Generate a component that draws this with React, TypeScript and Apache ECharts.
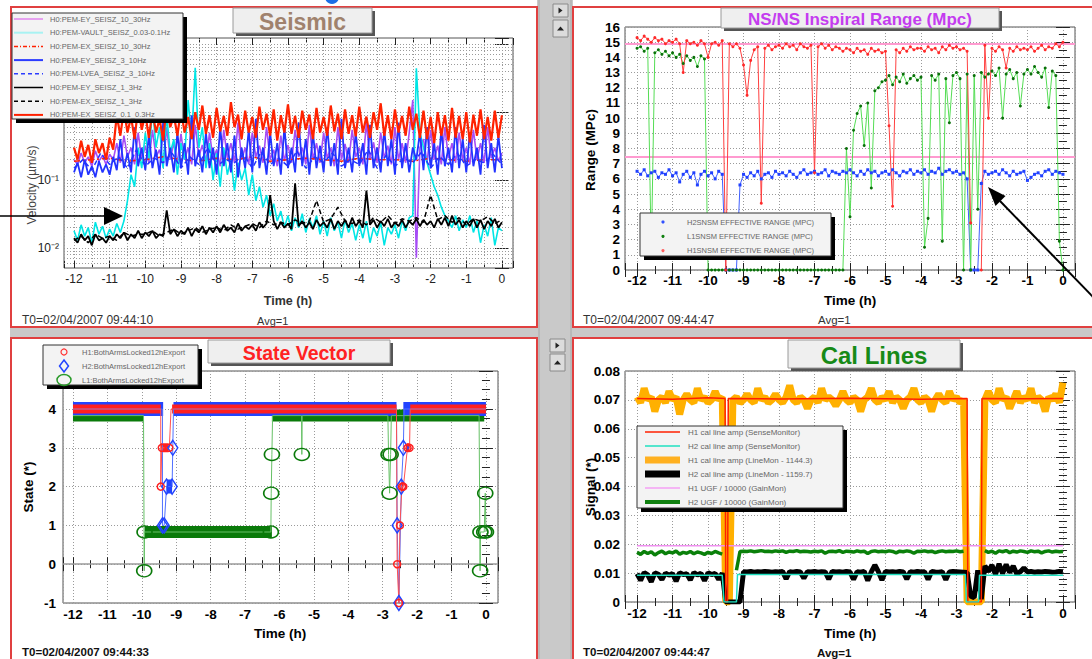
import React, { useEffect, useRef } from "react";
import * as echarts from "echarts";

const FONT = "'Liberation Sans', Arial, Helvetica, sans-serif";

// Time is in hours before T0; sampled series start at -12 h.
const T0 = -12;
const DT = 0.1;

// ---------------- Seismic band-limited velocities (µm/s), every 0.1 h ----------------
const seisViolet = [
  0.2, 0.17, 0.25, 0.18, 0.22, 0.16, 0.27, 0.19, 0.23, 0.17,
  0.24, 0.2, 0.35, 0.18, 0.45, 0.22, 0.3, 0.17, 0.5, 0.2,
  0.32, 0.18, 0.55, 0.22, 0.28, 0.16, 0.6, 0.2, 0.35, 0.18,
  0.48, 0.2, 0.3, 0.17, 0.65, 0.22, 0.33, 0.18, 0.5, 0.2,
  0.28, 0.16, 0.55, 0.21, 0.35, 0.18, 0.7, 0.2, 0.3, 0.17,
  0.5, 0.22, 0.32, 0.18, 0.6, 0.2, 0.28, 0.16, 0.45, 0.19,
  0.33, 0.18, 0.55, 0.22, 0.3, 0.17, 0.65, 0.2, 0.35, 0.18,
  0.5, 0.21, 0.3, 0.16, 0.6, 0.2, 0.34, 0.18, 0.55, 0.22,
  0.3, 0.17, 0.7, 0.2, 0.36, 0.18, 0.5, 0.21, 0.32, 0.17,
  0.6, 0.2, 0.35, 0.18, 0.5, 1.5, 0.0072, 0.3, 0.4, 0.18,
  0.55, 0.2, 0.32, 0.17, 0.6, 0.21, 0.35, 0.18, 0.5, 0.2,
  0.3, 0.17, 0.55, 0.2, 0.35, 0.18, 0.6, 0.21, 0.3, 0.19,
  0.25,
];
const seisCyan = [
  0.018, 0.013, 0.022, 0.015, 0.02, 0.012, 0.024, 0.016, 0.021, 0.014,
  0.019, 0.015, 0.023, 0.017, 0.025, 0.05, 0.12, 0.08, 0.3, 0.15,
  0.5, 0.2, 1.2, 0.3, 0.6, 0.15, 0.9, 0.25, 0.4, 0.12,
  0.35, 0.2, 1.5, 0.4, 4.5, 0.3, 0.6, 0.15, 0.35, 0.1,
  0.25, 0.08, 0.3, 0.12, 0.2, 0.07, 0.18, 0.1, 0.15, 0.06,
  0.12, 0.05, 0.08, 0.04, 0.06, 0.03, 0.045, 0.025, 0.035, 0.02,
  0.03, 0.018, 0.028, 0.02, 0.032, 0.017, 0.027, 0.02, 0.03, 0.016,
  0.025, 0.015, 0.028, 0.018, 0.024, 0.014, 0.026, 0.017, 0.023, 0.013,
  0.022, 0.014, 0.025, 0.012, 0.02, 0.015, 0.024, 0.011, 0.02, 0.016,
  0.022, 0.014, 0.025, 0.018, 0.028, 0.03, 4.4, 0.5, 0.3, 0.18,
  0.12, 0.08, 0.06, 0.04, 0.03, 0.025, 0.02, 0.03, 0.018, 0.026,
  0.02, 0.03, 0.017, 0.025, 0.012, 0.022, 0.015, 0.028, 0.011, 0.02,
  0.018,
];
// every 0.5 h
const seisRedDash = [
  0.19, 0.2, 0.21, 0.19, 0.2, 0.22, 0.2, 0.19, 0.21, 0.2, 0.22, 0.19, 0.2,
  0.21, 0.2, 0.19, 0.21, 0.2, 0.2, 0.19, 0.21, 0.2, 0.19, 0.2, 0.2,
];
const seisBlue = [
  0.13, 0.18, 0.11, 0.2, 0.12, 0.16, 0.11, 0.19, 0.13, 0.17,
  0.12, 0.22, 0.14, 0.4, 0.15, 0.25, 0.13, 0.6, 0.16, 0.3,
  0.14, 0.45, 0.15, 0.28, 0.12, 0.7, 0.16, 0.3, 0.13, 0.5,
  0.15, 0.35, 0.12, 0.9, 0.16, 0.28, 0.13, 0.5, 0.15, 0.3,
  0.12, 0.6, 0.16, 0.35, 0.13, 0.45, 0.11, 0.3, 0.15, 0.55,
  0.13, 0.8, 0.15, 0.3, 0.12, 0.5, 0.16, 0.35, 0.12, 0.6,
  0.15, 0.3, 0.13, 0.7, 0.16, 0.4, 0.12, 0.5, 0.15, 0.32,
  0.13, 0.6, 0.16, 0.35, 0.12, 0.8, 0.15, 0.3, 0.13, 0.5,
  0.16, 0.35, 0.12, 0.65, 0.15, 0.3, 0.13, 0.55, 0.16, 0.4,
  0.12, 0.7, 0.15, 0.35, 0.13, 0.3, 0.2, 0.5, 0.14, 0.6,
  0.15, 0.35, 0.12, 0.55, 0.16, 0.3, 0.13, 0.6, 0.15, 0.4,
  0.13, 0.5, 0.16, 0.3, 0.12, 0.65, 0.15, 0.35, 0.13, 0.45,
  0.15,
];
// every 0.25 h
const seisBlueDash = [
  0.15, 0.2, 0.14, 0.25, 0.17, 0.22, 0.15, 0.28, 0.16, 0.21,
  0.18, 0.25, 0.15, 0.22, 0.17, 0.3, 0.16, 0.2, 0.18, 0.24,
  0.15, 0.26, 0.17, 0.21, 0.16, 0.27, 0.15, 0.22, 0.18, 0.25,
  0.16, 0.2, 0.17, 0.28, 0.15, 0.23, 0.16, 0.21, 0.18, 0.26,
  0.15, 0.22, 0.17, 0.25, 0.16, 0.2, 0.18, 0.24, 0.17,
];
const seisBlack = [
  0.014, 0.012, 0.016, 0.013, 0.015, 0.011, 0.016, 0.013, 0.014, 0.012,
  0.015, 0.013, 0.016, 0.014, 0.017, 0.013, 0.016, 0.014, 0.018, 0.014,
  0.017, 0.015, 0.018, 0.014, 0.016, 0.015, 0.036, 0.016, 0.019, 0.015,
  0.018, 0.016, 0.02, 0.015, 0.019, 0.017, 0.021, 0.016, 0.02, 0.017,
  0.021, 0.017, 0.022, 0.018, 0.02, 0.017, 0.023, 0.018, 0.021, 0.019,
  0.022, 0.018, 0.024, 0.02, 0.023, 0.06, 0.025, 0.019, 0.024, 0.02,
  0.023, 0.019, 0.09, 0.021, 0.025, 0.02, 0.024, 0.019, 0.026, 0.021,
  0.024, 0.02, 0.027, 0.019, 0.025, 0.021, 0.026, 0.02, 0.028, 0.021,
  0.025, 0.02, 0.07, 0.022, 0.026, 0.02, 0.025, 0.021, 0.027, 0.02,
  0.024, 0.021, 0.026, 0.02, 0.025, 0.022, 0.027, 0.021, 0.026, 0.022,
  0.025, 0.02, 0.027, 0.022, 0.028, 0.021, 0.03, 0.022, 0.026, 0.02,
  0.025, 0.021, 0.027, 0.02, 0.026, 0.019, 0.025, 0.021, 0.027, 0.02,
  0.024,
];
// every 0.2 h
const seisBlackDash = [
  0.013, 0.015, 0.012, 0.016, 0.014, 0.015, 0.013, 0.017, 0.015, 0.016,
  0.016, 0.018, 0.015, 0.017, 0.019, 0.016, 0.018, 0.02, 0.017, 0.019,
  0.02, 0.018, 0.022, 0.019, 0.021, 0.023, 0.02, 0.025, 0.022, 0.024,
  0.022, 0.026, 0.023, 0.025, 0.05, 0.024, 0.027, 0.04, 0.025, 0.023,
  0.026, 0.022, 0.028, 0.024, 0.03, 0.023, 0.027, 0.025, 0.028, 0.024,
  0.06, 0.026, 0.03, 0.024, 0.028, 0.022, 0.027, 0.025, 0.029, 0.023,
  0.026,
];
const seisRed = [
  0.3, 0.2, 0.38, 0.22, 0.33, 0.18, 0.4, 0.25, 0.35, 0.2,
  0.42, 0.28, 0.9, 0.45, 1.1, 0.5, 0.85, 0.4, 1.2, 0.55,
  0.95, 0.42, 1.05, 0.5, 0.8, 0.38, 1.3, 0.6, 0.9, 0.45,
  1.1, 0.5, 0.85, 0.4, 1.0, 0.55, 1.25, 0.48, 0.9, 0.42,
  1.15, 0.52, 0.88, 0.45, 1.4, 0.6, 0.92, 0.4, 1.05, 0.5,
  0.85, 0.42, 1.2, 0.55, 0.95, 0.45, 1.1, 0.38, 0.9, 0.5,
  1.3, 0.48, 0.88, 0.42, 1.05, 0.55, 0.92, 0.4, 1.15, 0.5,
  0.85, 0.45, 1.25, 0.52, 0.95, 0.4, 1.1, 0.48, 0.9, 0.44,
  1.2, 0.5, 0.86, 0.42, 1.0, 0.55, 1.35, 0.45, 0.9, 0.4,
  1.1, 0.5, 0.88, 0.45, 1.2, 0.55, 0.95, 0.42, 1.05, 0.4,
  0.85, 0.35, 1.0, 0.45, 0.9, 0.38, 1.15, 0.42, 0.88, 0.4,
  1.0, 0.36, 0.92, 0.45, 1.1, 0.4, 0.85, 0.38, 1.05, 0.42,
  0.9,
];
const seisNames = [
  "H0:PEM-EY_SEISZ_10_30Hz",
  "H0:PEM-VAULT_SEISZ_0.03-0.1Hz",
  "H0:PEM-EX_SEISZ_10_30Hz",
  "H0:PEM-EY_SEISZ_3_10Hz",
  "H0:PEM-LVEA_SEISZ_3_10Hz",
  "H0:PEM-EY_SEISZ_1_3Hz",
  "H0:PEM-EX_SEISZ_1_3Hz",
  "H0:PEM-EX_SEISZ_0.1_0.3Hz",
];
const seisDecadeLabels: Record<string, string> = { "-1": "10⁻¹", "-2": "10⁻²" };
const seisGridLevels = [
  0.006, 0.007, 0.008, 0.009, 0.01, 0.02, 0.03, 0.04, 0.05, 0.06, 0.07, 0.08, 0.09,
  0.1, 0.2, 0.3, 0.4, 0.5, 0.6, 0.7, 0.8, 0.9, 1, 2, 3, 4, 5, 6, 7, 8, 9, 10,
];

// ---------------- NS/NS inspiral range (Mpc), every 0.1 h ----------------
const rangeH2 = [
  6.5, 6.3, 6.6, 6.2, 6.4, 6.5, 6.1, 6.4, 6.3, 6.6,
  6.2, 6.4, 5.8, 6.3, 6.5, 6.1, 6.4, 5.6, 6.3, 6.5,
  6.2, 6.4, 6.0, 6.5, 6.3, 0, 0, 0, 0, 5.6,
  6.3, 6.1, 6.4, 6.2, 6.5, 6.0, 6.3, 6.4, 6.1, 6.5,
  6.3, 6.4, 6.2, 6.5, 6.3, 6.1, 6.4, 6.6, 6.3, 6.4,
  6.5, 6.3, 6.4, 6.6, 6.2, 6.5, 6.4, 6.3, 6.5, 6.4,
  6.6, 6.4, 6.2, 6.5, 6.3, 6.6, 6.4, 6.5, 6.2, 6.4,
  6.5, 6.3, 6.6, 6.4, 6.2, 6.5, 6.4, 6.6, 6.3, 6.5,
  6.4, 6.6, 6.3, 6.5, 6.4, 6.7, 6.3, 6.5, 6.6, 6.4,
  6.5, 6.3, 6.4, 6.0, 0, 0, 0, 5.7, 6.5, 6.3,
  6.4, 6.5, 6.3, 6.6, 6.4, 6.2, 6.5, 6.3, 6.4, 6.5,
  5.9, 6.1, 6.3, 6.4, 6.2, 6.5, 6.6, 6.3, 6.5, 6.4,
  6.3,
];
const rangeL1 = [
  14.6, 14.7, 14.4, 14.6, 1.0, 14.3, 14.5, 14.2, 14.4, 14.1,
  14.3, 14.0, 14.2, 13.6, 14.1, 13.8, 14.0, 13.4, 14.1, 13.9,
  0, 0, 0, 0, 0, 0, 0, 0, 0, 0,
  0, 0, 0, 0, 0, 0, 0, 0, 0, 0,
  0, 0, 0, 0, 0, 0, 0, 0, 0, 0,
  0, 0, 0, 0, 0, 0, 0, 0, 0, 8.0,
  3.5, 9.2, 10.3, 10.8, 8.2, 11.0, 5.4, 11.8, 12.0, 12.4,
  12.5, 12.8, 12.2, 12.7, 12.4, 12.9, 12.3, 12.6, 12.8, 12.5,
  12.7, 1.5, 3.4, 12.8, 12.5, 12.9, 1.9, 12.6, 9.7, 12.8,
  13.0, 12.6, 0, 12.9, 0, 12.8, 4.0, 13.0, 12.7, 12.9,
  13.1, 12.8, 13.3, 10.0, 12.9, 13.2, 12.6, 13.0, 10.8, 12.9,
  13.2, 12.9, 13.4, 13.0, 12.7, 13.3, 10.7, 13.1, 12.8, 1.9,
  0,
];
const rangeH1 = [
  15.3, 15.1, 15.4, 15.2, 15.0, 15.3, 15.1, 15.2, 14.9, 15.1,
  15.0, 15.2, 14.9, 13.0, 15.1, 14.9, 15.0, 14.8, 15.1, 14.9,
  14.0, 14.9, 15.0, 14.8, 15.1, 0, 14.9, 14.7, 14.9, 14.6,
  13.5, 11.5, 13.8, 14.5, 14.7, 4.4, 14.6, 14.8, 14.5, 14.7,
  14.8, 14.6, 14.9, 14.7, 14.8, 14.5, 14.9, 14.7, 14.6, 14.8,
  6.4, 14.7, 14.9, 14.6, 14.8, 14.5, 14.7, 14.6, 14.4, 14.6,
  14.5, 14.3, 14.6, 14.4, 14.5, 14.2, 14.6, 14.4, 14.5, 14.3,
  14.4, 9.5, 4.2, 14.5, 14.3, 14.6, 14.4, 14.7, 14.5, 14.6,
  14.6, 14.4, 14.7, 14.5, 14.6, 14.3, 14.7, 14.5, 14.8, 14.6,
  14.7, 14.5, 14.6, 14.4, 3.1, null, null, 0, 14.8, 10.0,
  14.6, 14.4, 14.7, 14.5, 13.3, 14.6, 14.4, 14.7, 14.5, 14.6,
  14.5, 14.7, 14.4, 14.6, 14.8, 14.5, 14.7, 14.6, 14.9, 14.7,
  15.0,
];
const rangeNames = [
  "H2SNSM EFFECTIVE RANGE (MPC)",
  "L1SNSM EFFECTIVE RANGE (MPC)",
  "H1SNSM EFFECTIVE RANGE (MPC)",
];
const rangeRefLevels = [14.9, 7.45];

// ---------------- State vector: [hour, state] ----------------
const h1Trace = [
  [-12, 4], [-9.45, 4], [-9.45, 2], [-9.42, 3], [-9.2, 3], [-9.15, 4], [-2.6, 4],
  [-2.58, 0], [-2.53, -1], [-2.5, 1], [-2.44, 2], [-2.4, 2], [-2.28, 3], [-2.22, 3],
  [-2.2, 4], [0, 4],
];
const h2Trace = [
  [-12, 4], [-9.4, 4], [-9.4, 1], [-9.35, 1], [-9.28, 2], [-9.12, 2], [-9.1, 3],
  [-9.08, 4], [-2.6, 4], [-2.58, 1], [-2.53, -1], [-2.46, 2], [-2.4, 3], [-2.38, 4],
  [0, 4],
];
const l1Trace = [
  [-12, 3.83], [-9.95, 3.83], [-9.93, -0.17], [-9.92, 0.83], [-6.25, 0.83],
  [-6.24, 1.83], [-6.22, 2.83], [-6.2, 3.83], [-5.36, 3.83], [-5.35, 2.83],
  [-5.34, 3.83], [-2.85, 3.83], [-2.83, 2.83], [-2.8, 1.83], [-2.77, 2.83],
  [-2.75, 3.83], [-0.2, 3.83], [-0.17, -0.17], [-0.16, 0.83], [-0.05, 0.83],
  [-0.02, 1.83], [0, 0.83],
];
// sustained states: [from, to, state]
const h1Runs = [
  [-12, -9.45, 4], [-9.45, -9.22, 3], [-9.12, -2.6, 4], [-2.54, -2.52, -1],
  [-2.46, -2.4, 2], [-2.3, -2.22, 3], [-2.2, 0, 4],
];
const h2Runs = [
  [-12, -9.38, 4], [-9.28, -9.12, 2], [-9.08, -2.6, 4], [-2.4, 0, 4],
];
const l1Runs = [
  [-12, -9.95, 3.83], [-9.92, -6.22, 0.83], [-6.22, -0.05, 3.83],
];
const stateNames = [
  "H1:BothArmsLocked12hExport",
  "H2:BothArmsLocked12hExport",
  "L1:BothArmsLocked12hExport",
];

// ---------------- Cal lines, every 0.1 h unless given as [hour, value] ----------------
const calOrange = [
  0.071, 0.069, 0.074, 0.07, 0.071, 0.066, 0.07, 0.071, 0.069, 0.073,
  0.07, 0.071, 0.065, 0.07, 0.072, 0.07, 0.069, 0.074, 0.07, 0.071,
  0.069, 0.07, 0.073, 0.07, 0.071, 0, 0, 0.07, 0.071, 0.069,
  0.07, 0.072, 0.07, 0.069, 0.074, 0.07, 0.071, 0.069, 0.07, 0.072,
  0.07, 0.069, 0.071, 0.075, 0.07, 0.069, 0.071, 0.07, 0.067, 0.07,
  0.071, 0.069, 0.074, 0.07, 0.071, 0.07, 0.068, 0.07, 0.073, 0.07,
  0.069, 0.071, 0.07, 0.066, 0.07, 0.071, 0.074, 0.07, 0.069, 0.071,
  0.07, 0.073, 0.069, 0.071, 0.07, 0.067, 0.07, 0.071, 0.074, 0.07,
  0.069, 0.071, 0.07, 0.066, 0.07, 0.072, 0.07, 0.069, 0.073, 0.07,
  0.071, 0.069, 0.07, 0, 0, 0, 0, 0, 0.07, 0.073,
  0.07, 0.069, 0.074, 0.07, 0.071, 0.067, 0.07, 0.073, 0.069, 0.071,
  0.07, 0.074, 0.069, 0.071, 0.07, 0.066, 0.071, 0.07, 0.072, 0.069,
  0.076,
];
const calBlack = [
  0.0098, 0.0075, 0.0102, 0.0094, 0.007, 0.0101, 0.0096, 0.0078, 0.01, 0.0093,
  0.0099, 0.0072, 0.0101, 0.0095, 0.0098, 0.0076, 0.0102, 0.0094, 0.0099, 0.0074,
  0.0101, 0.0095, 0.0099, 0.0078, 0.01, 0, 0, 0, 0, 0,
  0.0105, 0.0104, 0.0106, 0.0103, 0.0105, 0.0104, 0.0106, 0.0105, 0.0103, 0.0105,
  0.0104, 0.0106, 0.008, 0.0105, 0.0103, 0.0106, 0.0104, 0.0082, 0.0105, 0.0104,
  0.0106, 0.0103, 0.0105, 0.0104, 0.0079, 0.0106, 0.0104, 0.0105, 0.0103, 0.0106,
  0.0104, 0.0078, 0.0105, 0.0103, 0.0106, 0.0074, 0.0104, 0.0128, 0.0105, 0.0076,
  0.0106, 0.0104, 0.0105, 0.0103, 0.0106, 0.0104, 0.0079, 0.0105, 0.0103, 0.0106,
  0.0104, 0.0105, 0.0078, 0.0106, 0.0104, 0.0103, 0.0105, 0.0077, 0.0104, 0.0106,
  0.0105, 0.0104, 0.0103, 0.0102, 0.002, 0.0015, 0.011, 0.001, 0.0125, 0.0105,
  0.0128, 0.0095, 0.0132, 0.0098, 0.013, 0.0102, 0.0125, 0.0097, 0.0105, 0.0118,
  0.0104, 0.0106, 0.0103, 0.0105, 0.0104, 0.0106, 0.0105, 0.0103, 0.0104, 0.0106,
  0.0105,
];
const calGreen = [
  0.0172, 0.0165, 0.0175, 0.0168, 0.0174, 0.0163, 0.0171, 0.0176, 0.0167, 0.0173,
  0.017, 0.0176, 0.0166, 0.0172, 0.0169, 0.0175, 0.0167, 0.0173, 0.017, 0.0165,
  0.0172, 0.0168, 0.0175, 0.017, 0.0166, null, null, null, 0.011, 0.0175,
  0.0176, 0.0175, 0.0177, 0.0174, 0.0176, 0.0178, 0.0175, 0.0176, 0.0174, 0.0177,
  0.0175, 0.0177, 0.0172, 0.0176, 0.0175, 0.0178, 0.0174, 0.0176, 0.0175, 0.0173,
  0.0176, 0.0174, 0.0177, 0.0169, 0.0175, 0.0176, 0.0174, 0.0178, 0.0172, 0.0176,
  0.0175, 0.0173, 0.0177, 0.0174, 0.0176, 0.0168, 0.0175, 0.0177, 0.0174, 0.0176,
  0.0174, 0.0177, 0.0175, 0.017, 0.0176, 0.0174, 0.0177, 0.0175, 0.0169, 0.0176,
  0.0175, 0.0177, 0.0174, 0.0176, 0.0171, 0.0175, 0.0177, 0.0174, 0.0176, 0.0175,
  0.0177, 0.0174, 0.0176, null, null, null, null, null, 0.0178, 0.0172,
  0.0176, 0.0169, 0.0177, 0.0174, 0.0178, 0.0171, 0.0176, 0.0173, 0.0177, 0.0175,
  0.0172, 0.0177, 0.0174, 0.0176, 0.017, 0.0175, 0.0177, 0.0173, 0.0176, 0.0174,
  0.0175,
];
const calRed = [
  [-12, 0.0705], [-11, 0.0702], [-10, 0.0707], [-9.52, 0.0705], [-9.5, 0], [-9.45, 0],
  [-9.43, 0.0705], [-8, 0.0703], [-6, 0.0706], [-4, 0.0702], [-2.7, 0.0705],
  [-2.68, 0], [-2.3, 0], [-2.28, 0.0705], [-1, 0.0704], [0, 0.0705],
];
const calCyan = [
  [-12, 0.0093], [-9.6, 0.0093], [-9.55, 0], [-9.2, 0], [-9.17, 0.0095],
  [-2.75, 0.0095], [-2.72, 0], [-2.38, 0], [-2.35, 0.0093], [0, 0.0093],
];
const calViolet = [[-12, 0.0195], [0, 0.0195]];
const calNames = [
  "H1 cal line amp (SenseMonitor)",
  "H2 cal line amp (SenseMonitor)",
  "H1 cal line amp (LineMon - 1144.3)",
  "H2 cal line amp (LineMon - 1159.7)",
  "H1 UGF / 10000 (GainMon)",
  "H2 UGF / 10000 (GainMon)",
];

// ---------------- helpers ----------------
const sampled = (vals: (number | null)[], step = DT) =>
  vals.map((v, i) => [Math.round((T0 + i * step) * 1000) / 1000, v]);
const runsData = (runs: number[][]) =>
  runs.flatMap(([a, b, v]) => [[a, v], [b, v], [b, null]]);
const isInt = (v: number) => Math.abs(v - Math.round(v)) < 1e-6;
const hourFmt = (v: number) => (isInt(v) ? String(Math.round(v)) : "");
const calFmt = (v: number) => {
  const c = v * 100;
  if (!isInt(c)) return "";
  const r = Math.round(c);
  return r === 0 ? "0" : (r / 100).toFixed(2);
};
const logFmt = (v: number) => {
  const e = Math.log10(v);
  return isInt(e) ? seisDecadeLabels[String(Math.round(e))] || "" : "";
};

const GRID_LINE = { color: "#9a9a9a", width: 1, type: [1, 2] };
const tickStyle = { color: "#222", width: 1 };

// axis ranges (the frames extend a little past -12 h and 0 h)
const X1 = [-12.28, 0.31];
const X2 = [-12.34, 0.34];
const X3 = [-12.29, 0.35];
const SEIS_Y = [0.0051, 12.3];

function xAxes(g: number, range: number[], label: any, minorSplit = 2) {
  const base = { type: "value", gridIndex: g, min: range[0], max: range[1], splitNumber: 12 };
  const ticks = { show: true, inside: true, length: 7, lineStyle: tickStyle };
  const minor = { show: true, splitNumber: minorSplit, length: 4, lineStyle: tickStyle };
  return [
    {
      ...base, position: "bottom", axisLine: { show: false }, axisTick: ticks, minorTick: minor,
      splitLine: { show: true, lineStyle: GRID_LINE },
      axisLabel: { ...label, formatter: hourFmt },
    },
    {
      ...base, position: "top", axisLine: { show: false }, axisTick: ticks, minorTick: minor,
      splitLine: { show: false }, axisLabel: { show: false },
    },
  ];
}

function yAxes(g: number, min: number, max: number, split: number, label: any, fmt: any, minorSplit = 2) {
  const base = { type: "value", gridIndex: g, min, max, splitNumber: split };
  const ticks = { show: true, inside: true, length: 7, lineStyle: tickStyle };
  const minor = { show: true, splitNumber: minorSplit, length: 4, lineStyle: tickStyle };
  return [
    {
      ...base, position: "left", axisLine: { show: false }, axisTick: ticks, minorTick: minor,
      splitLine: { show: true, lineStyle: GRID_LINE },
      axisLabel: { ...label, formatter: fmt },
    },
    {
      ...base, position: "right", axisLine: { show: false }, axisTick: ticks, minorTick: minor,
      splitLine: { show: false }, axisLabel: { show: false },
    },
  ];
}

const boldLabel = { fontFamily: FONT, fontSize: 13.5, fontWeight: "bold", color: "#000" };
const seisLabel = { fontFamily: FONT, fontSize: 12, color: "#222" };

function hLines(xi: number, yi: number, xr: number[], levels: number[], style: any, z: number) {
  return {
    type: "lines", coordinateSystem: "cartesian2d", xAxisIndex: xi, yAxisIndex: yi,
    silent: true, z, polyline: false, lineStyle: { opacity: 1, ...style },
    data: levels.map((v) => ({ coords: [[xr[0], v], [xr[1], v]] })),
  };
}

// ---------------- decorations ----------------
function text(x: number, y: number, t: string, font: string, fill: string, align = "left", z = 40, rotation = 0) {
  return {
    type: "text", x, y, rotation, z, silent: true,
    style: { text: t, font, fill, align, textAlign: align, verticalAlign: "middle", textVerticalAlign: "middle" },
  };
}
function rect(x: number, y: number, w: number, h: number, style: any, z: number) {
  return { type: "rect", shape: { x, y, width: w, height: h }, style, z, silent: true };
}
function titleBox(x: number, y: number, w: number, h: number, t: string, color: string, size: number) {
  return [
    rect(x + 3, y + 3, w, h, { fill: "#555" }, 20),
    rect(x, y, w, h, { fill: "#efefef", stroke: "#9a9a9a", lineWidth: 1 }, 21),
    text(x + w / 2, y + h / 2 + 1, t, `bold ${size}px ${FONT}`, color, "center", 22),
  ];
}
function legendFrame(x: number, y: number, w: number, h: number) {
  return [
    rect(x + 4, y + 4, w, h, { fill: "#000" }, 30),
    rect(x, y, w, h, { fill: "#f3f3f3", stroke: "#333", lineWidth: 1 }, 31),
  ];
}
function legendLine(x1: number, x2: number, y: number, color: string, width: number, dash?: number[]) {
  return {
    type: "line", z: 32, silent: true, shape: { x1, y1: y, x2, y2: y },
    style: { stroke: color, lineWidth: width, lineDash: dash },
  };
}

function buildGraphics() {
  const g: any[] = [];
  // separators between the four canvases
  g.push(rect(537, 0, 36, 659, { fill: "#c9c9c9" }, -10));
  g.push(rect(10, 327, 1082, 11, { fill: "#c9c9c9" }, -10));
  g.push({ type: "line", shape: { x1: 539, y1: 0, x2: 539, y2: 659 }, style: { stroke: "#a8a8a8", lineWidth: 1 }, z: -9, silent: true });
  g.push({ type: "line", shape: { x1: 571, y1: 0, x2: 571, y2: 659 }, style: { stroke: "#a8a8a8", lineWidth: 1 }, z: -9, silent: true });
  // canvases
  const panels = [[11, 7, 526, 320], [573, 7, 530, 320], [11, 338, 526, 330], [573, 338, 530, 330]];
  for (const [x, y, w, h] of panels) {
    g.push(rect(x, y, w, h, { fill: "#fff", stroke: "#e04040", lineWidth: 2 }, -8));
  }
  // small scroll buttons
  const buttons = [
    [553, 4, 15, 13, "r"], [553, 20, 15, 17, "u"], [550, 339, 15, 13, "r"], [550, 354, 15, 17, "u"],
  ];
  for (const [x, y, w, h, dir] of buttons as any[]) {
    g.push(rect(x, y, w, h, { fill: "#dcdcdc", stroke: "#8a8a8a", lineWidth: 1 }, -7));
    const cx = x + w / 2, cy = y + h / 2;
    const pts = dir === "r"
      ? [[cx - 2, cy - 3], [cx - 2, cy + 3], [cx + 2, cy]]
      : [[cx - 3.5, cy + 2], [cx + 3.5, cy + 2], [cx, cy - 2]];
    g.push({ type: "polygon", shape: { points: pts }, style: { fill: "#222" }, z: -6, silent: true });
  }
  g.push({ type: "circle", shape: { cx: 332, cy: -3, r: 7 }, style: { fill: "#1a6ee8" }, z: 50, silent: true });

  // titles
  g.push(...titleBox(233, 8, 139, 25, "Seismic", "#a0826d", 23));
  g.push(...titleBox(721, 8, 278, 20, "NS/NS Inspiral Range (Mpc)", "#c43cf0", 17));
  g.push(...titleBox(208, 340, 182, 23, "State Vector", "#ff2222", 19.5));
  g.push(...titleBox(788, 340, 172, 28, "Cal Lines", "#178a17", 24));

  // axis titles
  const b13 = `bold 13.5px ${FONT}`;
  g.push(text(288, 301, "Time (h)", `bold 12.5px ${FONT}`, "#333", "center"));
  g.push(text(32, 185, "Velocity (µm/s)", `12px ${FONT}`, "#444", "center", 40, Math.PI / 2));
  g.push(text(850, 300, "Time (h)", b13, "#000", "center"));
  g.push(text(590, 150, "Range (MPc)", b13, "#000", "center", 40, Math.PI / 2));
  g.push(text(280, 633, "Time (h)", b13, "#000", "center"));
  g.push(text(28, 487, "State (*)", b13, "#000", "center", 40, Math.PI / 2));
  g.push(text(850, 633, "Time (h)", b13, "#000", "center"));
  g.push(text(590, 487, "Signal (*)", b13, "#000", "center", 40, Math.PI / 2));

  // footers
  g.push(text(22, 320, "T0=02/04/2007 09:44:10", `12px ${FONT}`, "#333"));
  g.push(text(257, 321, "Avg=1", `11px ${FONT}`, "#333"));
  g.push(text(583, 320, "T0=02/04/2007 09:44:47", `12px ${FONT}`, "#333"));
  g.push(text(818, 320, "Avg=1", `11.5px ${FONT}`, "#333"));
  g.push(text(22, 652, "T0=02/04/2007 09:44:33", `bold 11.5px ${FONT}`, "#111"));
  g.push(text(583, 652, "T0=02/04/2007 09:44:47", `bold 11.5px ${FONT}`, "#111"));
  g.push(text(817, 653, "Avg=1", `bold 11.5px ${FONT}`, "#111"));

  // seismic legend
  g.push(...legendFrame(12, 13, 171, 106));
  const seisKeys: [string, number, number[] | undefined][] = [
    ["#e6a2f0", 2, undefined], ["#a8f2f2", 2, undefined], ["#ff2000", 1.5, [4, 2, 1, 2]],
    ["#2c3cff", 2, undefined], ["#2c3cff", 1.5, [4, 3]], ["#000", 1.5, undefined],
    ["#000", 1.5, [4, 3]], ["#ff2000", 2, undefined],
  ];
  seisNames.forEach((n, i) => {
    const y = 19 + i * 13.7;
    const [c, w, d] = seisKeys[i];
    g.push(legendLine(14, 43, y, c, w, d));
    g.push(text(50, y, n, `7.5px ${FONT}`, "#666", "left", 32));
  });

  // range legend
  g.push(...legendFrame(640, 213, 191, 43));
  const rangeKeys = ["#3050ff", "#108010", "#ff6060"];
  rangeNames.forEach((n, i) => {
    const y = 222 + i * 14.3;
    g.push({ type: "circle", shape: { cx: 663, cy: y, r: 1.6 }, style: { fill: rangeKeys[i] }, z: 32, silent: true });
    g.push(text(687, y, n, `7.5px ${FONT}`, "#666", "left", 32));
  });

  // state legend
  g.push(...legendFrame(43, 345, 155, 40));
  g.push({ type: "circle", shape: { cx: 64, cy: 352, r: 3 }, style: { fill: "none", stroke: "#ff3030", lineWidth: 1.2 }, z: 32, silent: true });
  g.push({ type: "polygon", shape: { points: [[64, 360], [68.5, 366], [64, 372], [59.5, 366]] }, style: { fill: "none", stroke: "#2244ff", lineWidth: 1.5 }, z: 32, silent: true });
  g.push({ type: "ellipse", shape: { cx: 64, cy: 380, rx: 7, ry: 5.5 }, style: { fill: "none", stroke: "#2a9a2a", lineWidth: 1.5 }, z: 32, silent: true });
  stateNames.forEach((n, i) => g.push(text(82, 352 + i * 14.3, n, `7.5px ${FONT}`, "#666", "left", 32)));

  // cal legend
  g.push(...legendFrame(637, 426, 206, 82));
  const calKeys: [string, number][] = [
    ["#ff2000", 1.5], ["#20e0c0", 1.5], ["#ffb020", 7], ["#000", 7], ["#f4a0f4", 1.5], ["#108010", 4],
  ];
  calNames.forEach((n, i) => {
    const y = 432 + i * 14;
    g.push(legendLine(645, 680, y, calKeys[i][0], calKeys[i][1]));
    g.push(text(688, y, n, `8px ${FONT}`, "#666", "left", 32));
  });

  // pointers
  g.push({ type: "line", shape: { x1: 0, y1: 216, x2: 106, y2: 216 }, style: { stroke: "#000", lineWidth: 1.5 }, z: 45, silent: true });
  g.push({ type: "polygon", shape: { points: [[104, 207], [123, 216], [104, 225]] }, style: { fill: "#000" }, z: 45, silent: true });
  g.push({ type: "line", shape: { x1: 1094, y1: 298, x2: 1000, y2: 201 }, style: { stroke: "#000", lineWidth: 2 }, z: 45, silent: true });
  g.push({ type: "polygon", shape: { points: [[988, 187], [1005.5, 196], [995.5, 206]] }, style: { fill: "#000" }, z: 45, silent: true });
  return g;
}

function buildOption() {
  const grids = [
    { left: 64, top: 38, width: 449, height: 230 },
    { left: 625, top: 27, width: 450, height: 243 },
    { left: 63, top: 371, width: 435, height: 232 },
    { left: 625, top: 371, width: 450, height: 231 },
  ].map((g) => ({
    ...g, show: true, borderColor: "#555", borderWidth: 1, backgroundColor: "transparent",
    containLabel: false, outerBoundsMode: "none",
  }));

  const seisY = [0, 1].map((k) => ({
    type: "log", logBase: 10, gridIndex: 0, min: SEIS_Y[0], max: SEIS_Y[1],
    position: k === 0 ? "left" : "right",
    axisLine: { show: false },
    axisTick: { show: true, inside: true, length: 7, lineStyle: tickStyle },
    splitLine: { show: false },
    axisLabel: k === 0 ? { ...seisLabel, margin: 5, formatter: logFmt } : { show: false },
  }));

  const xAxis = [
    ...xAxes(0, X1, { ...seisLabel, margin: 5 }),
    ...xAxes(1, X2, { ...boldLabel, margin: 3 }),
    ...xAxes(2, X3, { ...boldLabel, margin: 4 }),
    ...xAxes(3, X2, { ...boldLabel, margin: 4 }),
  ];
  const yAxis = [
    ...seisY,
    ...yAxes(1, 0, 16, 16, { ...boldLabel, margin: 5 }, hourFmt, 2),
    ...yAxes(2, -1, 4.98, 6, { ...boldLabel, margin: 7 }, hourFmt, 4),
    ...yAxes(3, 0, 0.08, 8, { ...boldLabel, margin: 5 }, calFmt, 5),
  ];

  const line = (name: string, xi: number, data: any[], color: string, width: number, dash?: any, z = 3) => ({
    name, type: "line", xAxisIndex: xi, yAxisIndex: xi, data, symbol: "none", silent: true, z,
    connectNulls: false, lineStyle: { color, width, type: dash || "solid" }, itemStyle: { color },
  });

  const halfHours: number[] = [];
  for (let h = -11.5; h < 0; h += 1) halfHours.push(h);

  const series: any[] = [
    // seismic grid
    hLines(0, 0, X1, seisGridLevels, GRID_LINE, 1),
    {
      type: "lines", coordinateSystem: "cartesian2d", xAxisIndex: 0, yAxisIndex: 0, silent: true, z: 1,
      lineStyle: { ...GRID_LINE, opacity: 1 },
      data: halfHours.map((h) => ({ coords: [[h, SEIS_Y[0]], [h, SEIS_Y[1]]] })),
    },
    line(seisNames[0], 0, sampled(seisViolet), "#a64cf5", 1.6),
    line(seisNames[1], 0, sampled(seisCyan), "#00e5e5", 1.6),
    line(seisNames[2], 0, sampled(seisRedDash, 0.5), "#ff2200", 1.5, [6, 3, 2, 3]),
    line(seisNames[3], 0, sampled(seisBlue), "#2233ff", 1.8),
    line(seisNames[4], 0, sampled(seisBlueDash, 0.25), "#2233ff", 1.5, [5, 3]),
    line(seisNames[5], 0, sampled(seisBlack), "#000", 1.8),
    line(seisNames[6], 0, sampled(seisBlackDash, 0.2), "#000", 1.5, [5, 3]),
    line(seisNames[7], 0, sampled(seisRed), "#ff2200", 2.2),

    // inspiral range
    hLines(2, 2, X2, rangeRefLevels, { color: "#ff9ad0", width: 2 }, 2),
  ];
  const rangeSpec: [string, number[], string, string, string][] = [
    [rangeNames[0], rangeH2 as number[], "#2040ff", "#4060ff", "rect"],
    [rangeNames[1], rangeL1, "#0a700a", "#55dd55", "circle"],
    [rangeNames[2], rangeH1 as number[], "#ff2a2a", "#ff4040", "circle"],
  ];
  for (const [name, vals, pc, lc, sym] of rangeSpec) {
    series.push({
      name, type: "line", xAxisIndex: 2, yAxisIndex: 2, data: sampled(vals), silent: true, z: 3,
      symbol: sym, symbolSize: 3, showAllSymbol: true, connectNulls: false,
      itemStyle: { color: pc }, lineStyle: { color: lc, width: 1 },
    });
  }

  // state vector
  series.push(hLines(4, 4, X3, [0], { color: "#9a9a9a", width: 1.5 }, 1));
  series.push(line(stateNames[2] + " run", 4, runsData(l1Runs), "#0a7a0a", 12, undefined, 3));
  series.push(line(stateNames[1] + " run", 4, runsData(h2Runs), "#2244ff", 14, undefined, 3));
  series.push(line(stateNames[0] + " run", 4, runsData(h1Runs), "#ff2020", 9, undefined, 3));
  const traceSpec: [string, number[][], number, string, string, string, any][] = [
    [stateNames[2], l1Trace, 3.83, "#0a7a0a", "#66c066", "circle", [15, 12]],
    [stateNames[1], h2Trace, 4, "#2244ff", "#5070ff", "diamond", [10, 15]],
    [stateNames[0], h1Trace, 4, "#ff2020", "#ff5050", "circle", 7],
  ];
  for (const [name, pts, level, c, lc, sym, size] of traceSpec) {
    series.push({
      name, type: "line", xAxisIndex: 4, yAxisIndex: 4, silent: true, z: 4,
      data: pts.map(([t, v]) => (v === level ? { value: [t, v], symbol: "none" } : { value: [t, v] })),
      symbol: sym, symbolSize: size, showAllSymbol: true,
      itemStyle: { color: "rgba(0,0,0,0)", borderColor: c, borderWidth: 1.5 },
      lineStyle: { color: lc, width: 1 },
    });
  }

  // cal lines
  series.push(line(calNames[2], 6, sampled(calOrange), "#ffb000", 7));
  series.push(line(calNames[3], 6, sampled(calBlack), "#000", 5));
  series.push(line(calNames[5], 6, sampled(calGreen), "#0a800a", 3.5));
  series.push(line(calNames[4], 6, calViolet, "#f090f0", 1.5));
  series.push(line(calNames[0], 6, calRed, "#ff2000", 1.5));
  series.push(line(calNames[1], 6, calCyan, "#20e0c0", 1.5));

  return {
    animation: false,
    backgroundColor: "#ffffff",
    textStyle: { fontFamily: FONT },
    grid: grids,
    xAxis,
    yAxis,
    series,
    graphic: { elements: buildGraphics() },
  };
}

export default function App() {
  const ref = useRef<HTMLDivElement>(null);
  useEffect(() => {
    if (!ref.current) return;
    const chart = echarts.init(ref.current, undefined, { renderer: "svg" });
    chart.setOption(buildOption() as any);
    return () => chart.dispose();
  }, []);
  return (
    <div
      ref={ref}
      style={{ position: "fixed", left: 0, top: 0, width: 1092, height: 659, background: "#fff" }}
    />
  );
}
